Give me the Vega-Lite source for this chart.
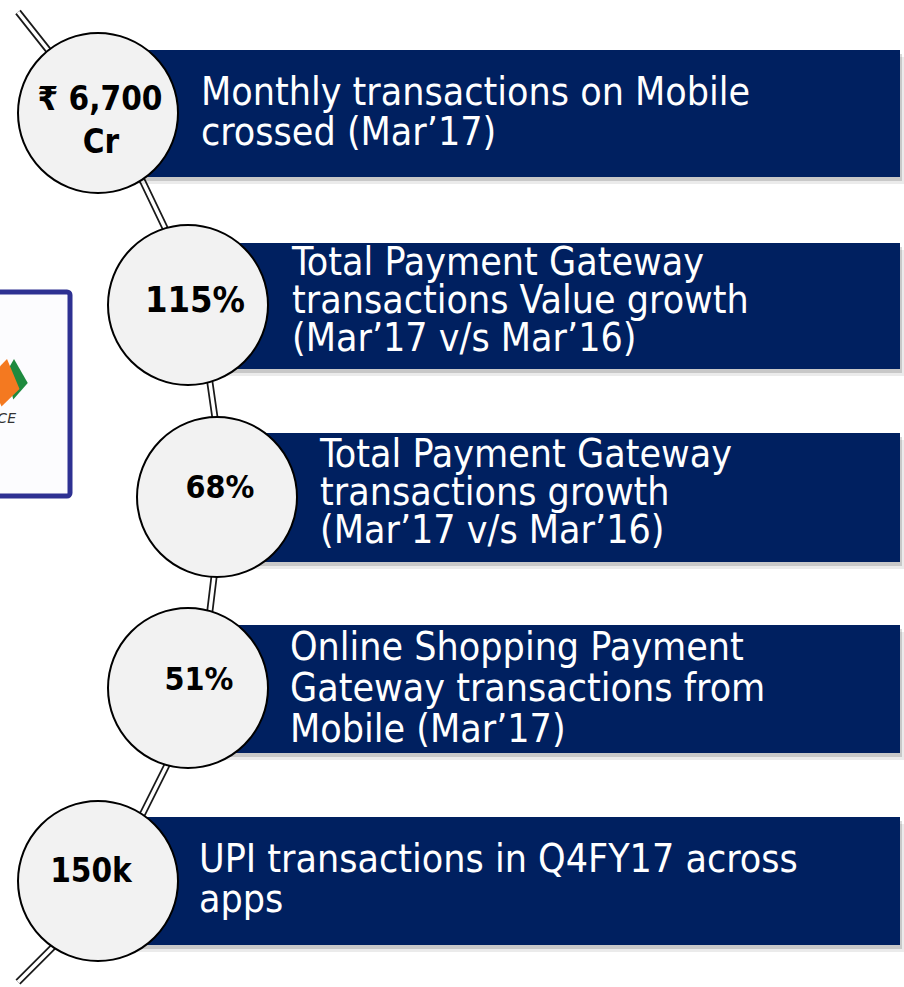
{
  "$schema": "https://vega.github.io/schema/vega-lite/v6.json",
  "width": 904,
  "height": 987,
  "padding": 0,
  "autosize": {"type": "none"},
  "background": "white",
  "config": {"view": {"stroke": null}},
  "datasets": {
    "box": [{"x0": -20, "x1": 70, "y0": 292, "y1": 496}],
    "logo": [{"part": "green", "x": 9, "y": 382}, {"part": "orange", "x": 9, "y": 382}],
    "logoText": [{"t": "FACE", "x": 16, "y": 423}],
    "path": [
      {"ord": 1, "px": 18, "py": 12},
      {"ord": 2, "px": 98, "py": 113},
      {"ord": 3, "px": 143, "py": 182},
      {"ord": 4, "px": 165, "py": 228},
      {"ord": 5, "px": 188, "py": 305},
      {"ord": 6, "px": 210, "py": 383},
      {"ord": 7, "px": 215, "py": 418},
      {"ord": 8, "px": 217, "py": 497},
      {"ord": 9, "px": 214, "py": 577},
      {"ord": 10, "px": 210, "py": 610},
      {"ord": 11, "px": 188, "py": 688},
      {"ord": 12, "px": 167, "py": 765},
      {"ord": 13, "px": 143, "py": 813},
      {"ord": 14, "px": 98, "py": 881},
      {"ord": 15, "px": 53, "py": 947},
      {"ord": 16, "px": 18, "py": 982}
    ],
    "bars": [
      {"item": 1, "x0": 98, "x1": 900, "y0": 50, "y1": 177},
      {"item": 2, "x0": 188, "x1": 900, "y0": 243, "y1": 369},
      {"item": 3, "x0": 217, "x1": 900, "y0": 433, "y1": 562},
      {"item": 4, "x0": 188, "x1": 900, "y0": 625, "y1": 753},
      {"item": 5, "x0": 98, "x1": 900, "y0": 817, "y1": 945}
    ],
    "circles": [
      {"item": 1, "cx": 98, "cy": 113},
      {"item": 2, "cx": 188, "cy": 305},
      {"item": 3, "cx": 217, "cy": 497},
      {"item": 4, "cx": 188, "cy": 688},
      {"item": 5, "cx": 98, "cy": 881}
    ],
    "circleText": [
      {"label": "₹ 6,700", "x": 100, "y": 110},
      {"label": "Cr", "x": 101, "y": 153},
      {"label": "115%", "x": 195, "y": 312},
      {"label": "68%", "x": 220, "y": 498},
      {"label": "51%", "x": 199, "y": 690},
      {"label": "150k", "x": 91, "y": 882}
    ],
    "lines": [
      {"item": 1, "text": "Monthly transactions on Mobile", "x": 201, "y": 105},
      {"item": 1, "text": "crossed (Mar’17)", "x": 201, "y": 145},
      {"item": 2, "text": "Total Payment Gateway", "x": 292, "y": 275},
      {"item": 2, "text": "transactions Value growth", "x": 292, "y": 313},
      {"item": 2, "text": "(Mar’17 v/s Mar’16)", "x": 292, "y": 351},
      {"item": 3, "text": "Total Payment Gateway", "x": 320, "y": 467},
      {"item": 3, "text": "transactions growth", "x": 320, "y": 505},
      {"item": 3, "text": "(Mar’17 v/s Mar’16)", "x": 320, "y": 543},
      {"item": 4, "text": "Online Shopping Payment", "x": 290, "y": 660},
      {"item": 4, "text": "Gateway transactions from", "x": 290, "y": 701},
      {"item": 4, "text": "Mobile (Mar’17)", "x": 290, "y": 742},
      {"item": 5, "text": "UPI transactions in Q4FY17 across", "x": 199, "y": 872},
      {"item": 5, "text": "apps", "x": 199, "y": 912}
    ]
  },
  "layer": [
    {
      "data": {"name": "box"},
      "mark": {"type": "rect", "fill": "#FCFCFE", "stroke": "#2E3192", "strokeWidth": 5, "cornerRadius": 3, "clip": true},
      "encoding": {
        "x": {"field": "x0", "type": "quantitative", "scale": {"domain": [0, 904], "nice": false, "zero": false}, "axis": null},
        "x2": {"field": "x1"},
        "y": {"field": "y0", "type": "quantitative", "scale": {"domain": [0, 987], "nice": false, "zero": false, "reverse": true}, "axis": null},
        "y2": {"field": "y1"}
      }
    },
    {
      "data": {"name": "logo"},
      "transform": [{"filter": "datum.part === 'green'"}],
      "mark": {"type": "point", "filled": true, "fill": "#1E8A3E", "opacity": 1, "size": 2500, "clip": true,
        "shape": "M0.2,-0.92 L0.75,0.04 L0.17,0.7 L-0.1,-0.4 Z"},
      "encoding": {
        "x": {"field": "x", "type": "quantitative"},
        "y": {"field": "y", "type": "quantitative"}
      }
    },
    {
      "data": {"name": "logo"},
      "transform": [{"filter": "datum.part === 'orange'"}],
      "mark": {"type": "point", "filled": true, "fill": "#F47920", "opacity": 1, "size": 2500, "clip": true,
        "shape": "M-0.08,-0.92 L0.42,0.28 L-0.3,0.98 L-0.8,-0.17 Z"},
      "encoding": {
        "x": {"field": "x", "type": "quantitative"},
        "y": {"field": "y", "type": "quantitative"}
      }
    },
    {
      "data": {"name": "logoText"},
      "mark": {"type": "text", "align": "right", "baseline": "alphabetic", "font": "DejaVu Sans", "fontStyle": "italic", "fontSize": 14, "color": "#333333", "clip": true},
      "encoding": {
        "x": {"field": "x", "type": "quantitative"},
        "y": {"field": "y", "type": "quantitative"},
        "text": {"field": "t"}
      }
    },
    {
      "data": {"name": "path"},
      "mark": {"type": "line", "color": "#1a1a1a", "strokeWidth": 7, "strokeCap": "butt", "strokeJoin": "round"},
      "encoding": {
        "x": {"field": "px", "type": "quantitative"},
        "y": {"field": "py", "type": "quantitative"},
        "order": {"field": "ord", "type": "quantitative"}
      }
    },
    {
      "data": {"name": "path"},
      "mark": {"type": "line", "color": "#ffffff", "strokeWidth": 3.5, "strokeCap": "butt", "strokeJoin": "round"},
      "encoding": {
        "x": {"field": "px", "type": "quantitative"},
        "y": {"field": "py", "type": "quantitative"},
        "order": {"field": "ord", "type": "quantitative"}
      }
    },
    {
      "data": {"name": "bars"},
      "mark": {"type": "rect", "fill": "#000000", "opacity": 0.08, "xOffset": 4, "x2Offset": 4, "yOffset": 7, "y2Offset": 7},
      "encoding": {
        "x": {"field": "x0", "type": "quantitative"},
        "x2": {"field": "x1"},
        "y": {"field": "y0", "type": "quantitative"},
        "y2": {"field": "y1"}
      }
    },
    {
      "data": {"name": "bars"},
      "mark": {"type": "rect", "fill": "#000000", "opacity": 0.15, "xOffset": 2, "x2Offset": 2, "yOffset": 4, "y2Offset": 4},
      "encoding": {
        "x": {"field": "x0", "type": "quantitative"},
        "x2": {"field": "x1"},
        "y": {"field": "y0", "type": "quantitative"},
        "y2": {"field": "y1"}
      }
    },
    {
      "data": {"name": "bars"},
      "mark": {"type": "rect", "fill": "#002060"},
      "encoding": {
        "x": {"field": "x0", "type": "quantitative"},
        "x2": {"field": "x1"},
        "y": {"field": "y0", "type": "quantitative"},
        "y2": {"field": "y1"}
      }
    },
    {
      "data": {"name": "circles"},
      "mark": {"type": "point", "shape": "circle", "filled": true, "fill": "#F2F2F2", "stroke": "#000000", "strokeWidth": 2, "opacity": 1, "size": 25600},
      "encoding": {
        "x": {"field": "cx", "type": "quantitative"},
        "y": {"field": "cy", "type": "quantitative"}
      }
    },
    {
      "data": {"name": "circleText"},
      "mark": {"type": "text", "align": "center", "baseline": "alphabetic", "font": "DejaVu Sans Condensed, DejaVu Sans", "fontWeight": "bold", "color": "#000000"},
      "encoding": {
        "x": {"field": "x", "type": "quantitative"},
        "y": {"field": "y", "type": "quantitative"},
        "text": {"field": "label"},
        "size": {"field": "label", "type": "nominal", "legend": null,
          "scale": {"type": "ordinal", "domain": ["₹ 6,700", "Cr", "115%", "68%", "51%", "150k"], "range": [33, 33, 36, 32, 32, 33]}}
      }
    },
    {
      "data": {"name": "lines"},
      "mark": {"type": "text", "align": "left", "baseline": "alphabetic", "font": "DejaVu Sans Condensed, DejaVu Sans", "fontSize": 39, "color": "#ffffff"},
      "encoding": {
        "x": {"field": "x", "type": "quantitative"},
        "y": {"field": "y", "type": "quantitative"},
        "text": {"field": "text"}
      }
    }
  ]
}
